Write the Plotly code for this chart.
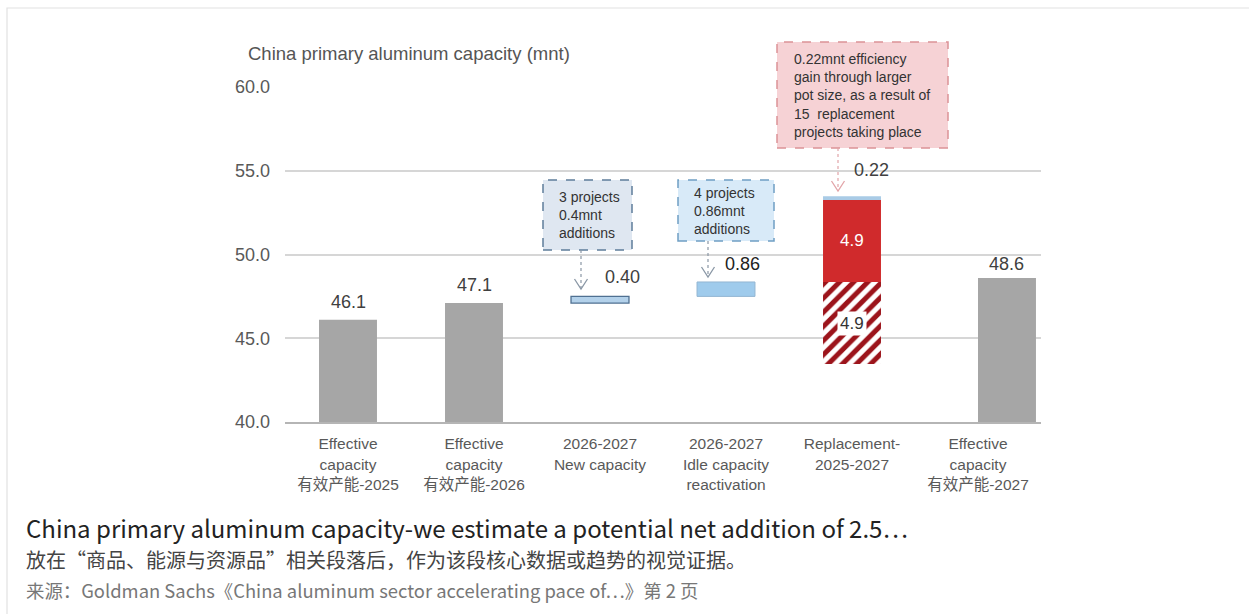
import plotly.graph_objects as go

# Category labels (x axis)
categories = [
    "Effective<br>capacity<br>有效产能-2025",
    "Effective<br>capacity<br>有效产能-2026",
    "2026-2027<br>New capacity",
    "2026-2027<br>Idle capacity<br>reactivation",
    "Replacement-<br>2025-2027",
    "Effective<br>capacity<br>有效产能-2027",
]

# Values (mnt)
effective_capacity = [46.1, 47.1, 48.6]   # 2025, 2026, 2027
new_capacity = 0.40
idle_reactivation = 0.86
replacement_removed = 4.9
replacement_added = 4.9
efficiency_gain = 0.22

y_ticks = [40.0, 45.0, 50.0, 55.0, 60.0]

# Waterfall bases
base_new = effective_capacity[1]
base_idle = base_new + new_capacity
base_repl = base_idle + idle_reactivation
base_removed = base_repl - replacement_removed
base_gain = base_repl + replacement_added

W, H = 1249, 614
L, R, T, B = 285, 208, 87, 192
PW, PH = W - L - R, H - T - B


def px(x):
    return (x - L) / PW


def py(y):
    return (H - B - y) / PH


CHART_FONT = "Liberation Sans, Arial, Noto Sans CJK SC"
UI_FONT = "Noto Sans CJK SC, Noto Sans"
BAR_W = 0.46

fig = go.Figure()

# Effective capacity bars
fig.add_trace(go.Bar(
    x=[0, 1, 5], y=effective_capacity, width=BAR_W,
    offset=[-BAR_W / 2, -BAR_W / 2, 0.0],
    marker=dict(color="#a6a6a6", line=dict(width=0)),
))
# New capacity
fig.add_trace(go.Bar(
    x=[2], y=[new_capacity], base=[base_new], width=BAR_W,
    marker=dict(color="#b3d1ea", line=dict(color="#4f7091", width=1.3)),
))
# Idle capacity reactivation
fig.add_trace(go.Bar(
    x=[3], y=[idle_reactivation], base=[base_idle], width=BAR_W,
    marker=dict(color="#9fcbec", line=dict(color="#93b6d2", width=1)),
))
# Replacement: capacity retired (hatched)
fig.add_trace(go.Bar(
    x=[4], y=[replacement_removed], base=[base_removed], width=BAR_W,
    marker=dict(color="white", line=dict(width=0),
                pattern=dict(shape="/", fgcolor="#9c141b", bgcolor="white",
                             fgopacity=1, size=10, solidity=0.5)),
))
# Replacement: new capacity
fig.add_trace(go.Bar(
    x=[4], y=[replacement_added], base=[base_repl], width=BAR_W,
    marker=dict(color="#d02a2c", line=dict(width=0)),
))
# Efficiency gain
fig.add_trace(go.Bar(
    x=[4], y=[efficiency_gain], base=[base_gain], width=BAR_W,
    marker=dict(color="#a9cbe6", line=dict(width=0)),
))

ann = []
lbl = dict(size=18, color="#404040", family=CHART_FONT)

# Value labels
for xi, v, xs, ys in zip([0, 1, 5], effective_capacity, [0, 0, 28], [6, 6, 2]):
    ann.append(dict(x=xi, y=v, xref="x", yref="y", text=f"{v:.1f}",
                    showarrow=False, yanchor="bottom", yshift=ys, xshift=xs,
                    font=lbl))
ann.append(dict(x=2, y=base_new + new_capacity, xref="x", yref="y",
                text=f"{new_capacity:.2f}", showarrow=False, yanchor="bottom",
                yshift=7, xshift=22, font=lbl))
ann.append(dict(x=3, y=base_idle + idle_reactivation, xref="x", yref="y",
                text=f"{idle_reactivation:.2f}", showarrow=False,
                yanchor="bottom", yshift=6, xshift=16,
                font=dict(size=18, color="#222", family=CHART_FONT)))
ann.append(dict(x=4, y=base_gain + efficiency_gain, xref="x", yref="y",
                text=f"{efficiency_gain:.2f}", showarrow=False,
                yanchor="bottom", yshift=14, xshift=19, font=lbl))
ann.append(dict(x=4, y=base_repl + replacement_added / 2, xref="x", yref="y",
                text=f"{replacement_added:.1f}", showarrow=False,
                font=dict(size=17, color="white", family=CHART_FONT)))
ann.append(dict(x=4, y=base_removed + replacement_removed / 2, xref="x",
                yref="y", text=f"{replacement_removed:.1f}", showarrow=False,
                bgcolor="white", borderpad=2,
                font=dict(size=17, color="#333", family=CHART_FONT)))

# Y axis title
ann.append(dict(x=px(246), y=py(54), xref="paper", yref="paper",
                text="China primary aluminum capacity (mnt)", showarrow=False,
                xanchor="left", yanchor="middle",
                font=dict(size=18.5, color="#555", family=CHART_FONT)))

shapes = []
box_font = dict(size=14, color="#333", family=CHART_FONT)

# Callout boxes: (x0, x1, y0, y1) in pixels, fill, border, text
callouts = [
    (543, 632, 180, 250, "#dfe7f1", "#5f7d9b",
     "3 projects<br>0.4mnt<br>additions", 557, 581, 289),
    (678, 774, 180, 241, "#d8eaf8", "#6f9fc3",
     "4 projects<br>0.86mnt<br>additions", 692, 708, 277),
    (777, 948, 42, 148, "#f6d2d5", "#dc9297",
     "0.22mnt efficiency<br>gain through larger<br>pot size, as a result of"
     "<br>15  replacement<br>projects taking place", 792, 838, 191),
]
for x0, x1, y0, y1, fill, border, text, tx, ax_, tip in callouts:
    shapes.append(dict(type="rect", xref="paper", yref="paper",
                       x0=px(x0), x1=px(x1), y0=py(y1), y1=py(y0),
                       fillcolor=fill, line=dict(color=border, width=1.5,
                                                 dash="dash"), layer="above"))
    ann.append(dict(x=px(tx), y=py((y0 + y1) / 2), xref="paper", yref="paper",
                    text=text, showarrow=False, xanchor="left",
                    yanchor="middle", align="left", font=box_font))
    arrow_col = "#e2a4a8" if fill == "#f6d2d5" else "#8a97a5"
    shapes.append(dict(type="line", xref="paper", yref="paper",
                       x0=px(ax_), x1=px(ax_), y0=py(y1), y1=py(tip),
                       line=dict(color=arrow_col, width=1.2, dash="dot")))
    shapes.append(dict(type="path", xref="paper", yref="paper",
                       xsizemode="pixel", ysizemode="pixel",
                       xanchor=px(ax_), yanchor=py(tip),
                       path="M-6.5,10 L0,0 L6.5,10",
                       line=dict(color=arrow_col, width=1.3)))

# Card frame
shapes.append(dict(type="rect", xref="paper", yref="paper",
                   x0=px(7), x1=px(1262), y0=py(625), y1=py(8),
                   line=dict(color="#e2e2e2", width=1.2), layer="below"))

# Caption block
ann.append(dict(x=px(24), y=py(527), xref="paper", yref="paper",
                text="China primary aluminum capacity-we estimate a potential net addition of 2.5…",
                showarrow=False, xanchor="left", yanchor="middle",
                font=dict(size=24, color="#222", family=UI_FONT)))
ann.append(dict(x=px(24), y=py(559), xref="paper", yref="paper",
                text="放在“商品、能源与资源品”相关段落后，作为该段核心数据或趋势的视觉证据。",
                showarrow=False, xanchor="left", yanchor="middle",
                font=dict(size=20, color="#444", family=UI_FONT)))
ann.append(dict(x=px(24), y=py(590), xref="paper", yref="paper",
                text="来源：Goldman Sachs《China aluminum sector accelerating pace of…》第 2 页",
                showarrow=False, xanchor="left", yanchor="middle",
                font=dict(size=18.4, color="#777", family=UI_FONT)))

fig.update_layout(
    width=W, height=H,
    margin=dict(l=L, r=R, t=T, b=B, pad=0),
    paper_bgcolor="white", plot_bgcolor="white",
    barmode="overlay", showlegend=False,
    annotations=ann, shapes=shapes,
    xaxis=dict(range=[-0.5, 5.5], tickvals=list(range(len(categories))),
               ticktext=categories, showgrid=False, zeroline=False,
               showline=True, linecolor="#b5b5b5", linewidth=1.5,
               ticks="", ticklabelstandoff=7,
               tickfont=dict(size=15.5, color="#595959", family=CHART_FONT)),
    yaxis=dict(range=[40, 60], tickvals=y_ticks,
               ticktext=[f"{v:.1f}" for v in y_ticks],
               showgrid=True, gridcolor="#d6d6d6", gridwidth=1.5,
               zeroline=False, showline=False, ticks="",
               ticklabelstandoff=14,
               tickfont=dict(size=18, color="#595959", family=CHART_FONT)),
)

fig.write_html("out.html")
